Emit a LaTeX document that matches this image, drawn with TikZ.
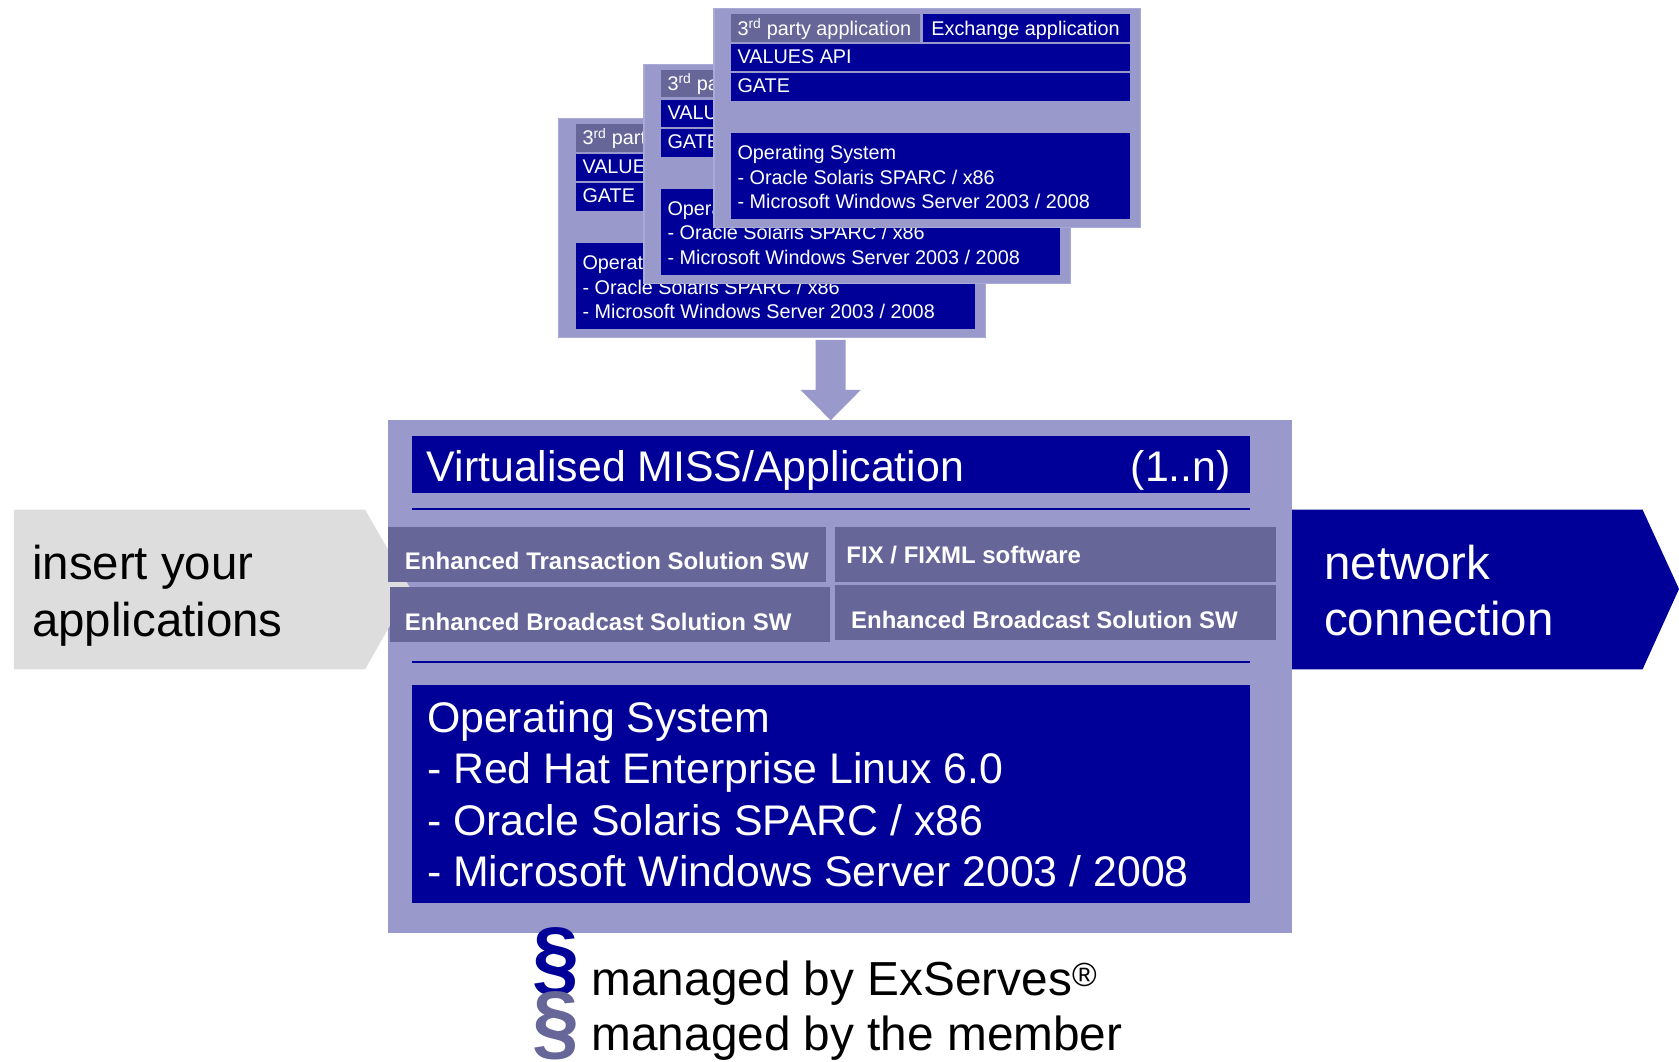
\documentclass[tikz,border=0pt]{standalone}
\usepackage{fontspec}
\setmainfont{Liberation Sans}
\definecolor{navy}{RGB}{0,0,153}
\definecolor{lilac}{RGB}{153,153,204}
\definecolor{slate}{RGB}{102,102,153}
\definecolor{lightgray}{RGB}{221,221,221}
\definecolor{cardedge}{RGB}{170,170,215}
\tikzset{
  blk/.style={inner sep=0pt, outer sep=0pt, anchor=north west},
  navybox/.style={blk, fill=navy},
  slatebox/.style={blk, fill=slate},
  cardbox/.style={blk, fill=lilac, draw=cardedge, line width=1pt},
  paneltxt/.style={inner sep=0pt, outer sep=0pt, text=white},
  cardtxt/.style={paneltxt, font=\fontsize{18.5}{20}\selectfont, anchor=base west},
  bigtxt/.style={paneltxt, font=\fontsize{40}{44}\selectfont, anchor=base west},
  rowtxt/.style={paneltxt, font=\fontsize{22.4}{24}\selectfont\bfseries, anchor=base west},
  sidetxt/.style={inner sep=0pt, outer sep=0pt, font=\fontsize{44.3}{48}\selectfont, anchor=base west},
  legtxt/.style={inner sep=0pt, outer sep=0pt, font=\fontsize{44.6}{48}\selectfont, anchor=base west, text=black},
  sect/.style={inner sep=0pt, outer sep=0pt, font=\fontsize{79}{80}\selectfont\bfseries, anchor=base west},
  sep/.style={draw=navy, line width=2pt},
}
\newcommand{\stackcard}[3]{%
  \begin{scope}[shift={(#2,#3)}]
    \node[cardbox, minimum width=398pt, minimum height=205pt] (#1) at (0,0) {};
    \node[slatebox, minimum width=176.7pt, minimum height=25.8pt] (#1-tab) at (16,5.3) {};
    \node[navybox, minimum width=192.9pt, minimum height=25.8pt] (#1-exch) at (195.6,5.3) {};
    \node[navybox, minimum width=372.5pt, minimum height=25.2pt] (#1-api) at (16,33.3) {};
    \node[navybox, minimum width=372.5pt, minimum height=25.8pt] (#1-gate) at (16,60.7) {};
    \node[navybox, minimum width=372.5pt, minimum height=80pt] (#1-os) at (16,116.7) {};
    \node[cardtxt] (#1-tabt) at (22,24.9) {3\textsuperscript{rd} party application};
    \node[cardtxt] (#1-exct) at (203,24.9) {Exchange application};
    \node[cardtxt] (#1-apit) at (22,51.4) {VALUES API};
    \node[cardtxt] (#1-gatet) at (22,78.8) {GATE};
    \node[cardtxt] (#1-os1) at (22,141) {Operating System};
    \node[cardtxt] (#1-os2) at (22,164.3) {- Oracle Solaris SPARC / x86};
    \node[cardtxt] (#1-os3) at (22,186.8) {- Microsoft Windows Server 2003 / 2008};
  \end{scope}}
\begin{document}
\begin{tikzpicture}[x=1pt,y=-1pt]
\useasboundingbox[fill=white] (0,0) rectangle (1568,991);

% stacked cards
\stackcard{cardA}{522}{110.5}
\stackcard{cardB}{601.4}{59.8}
\stackcard{cardC}{666.8}{7.8}

% down arrow
\fill[lilac] (761.7,317.5) -- (789.8,317.5) -- (789.8,364.2) -- (803.8,364.2)
  -- (775.8,392.5) -- (747.7,364.2) -- (761.7,364.2) -- cycle;

% main panel
\node[blk, fill=lilac, minimum width=844pt, minimum height=479pt] (panel) at (362.7,392.3) {};

% left arrow
\fill[lightgray] (13,476) -- (341,476) -- (383.5,550) -- (341,625) -- (13,625) -- cycle;
\node[sidetxt, text=black] (ins1) at (30,541) {insert your};
\node[sidetxt, text=black] (ins2) at (30,594.6) {applications};

% right arrow
\fill[navy] (1206.6,476) -- (1534,476) -- (1568,550) -- (1534,625) -- (1206.6,625) -- cycle;
\node[sidetxt, text=white] (net1) at (1236.7,541) {network};
\node[sidetxt, text=white] (net2) at (1236.7,593.6) {connection};

% title bar
\node[navybox, minimum width=782.4pt, minimum height=52.9pt] (title) at (385,407.2) {};
\node[bigtxt] (titlet) at (398.5,449.2) {Virtualised MISS/Application};
\node[bigtxt, anchor=base east] (titlen) at (1149.4,449.2) {(1..n)};

% separators
\coordinate (s1a) at (385,475.7);
\coordinate (s1b) at (1167.4,475.7);
\coordinate (s2a) at (385,618);
\coordinate (s2b) at (1167.4,618);
\draw[sep] (s1a) -- (s1b);
\draw[sep] (s2a) -- (s2b);

% software rows
\node[slatebox, minimum width=408.7pt, minimum height=51.4pt] (ets) at (362.7,491.8) {};
\node[slatebox, minimum width=411.7pt, minimum height=51.4pt] (fix) at (779.8,491.8) {};
\node[slatebox, minimum width=410.9pt, minimum height=51.3pt] (ebs1) at (364.2,548.5) {};
\node[slatebox, minimum width=411.7pt, minimum height=51.4pt] (ebs2) at (779.8,546.3) {};
\node[rowtxt] (etst) at (378.2,531.7) {Enhanced Transaction Solution SW};
\node[rowtxt] (fixt) at (790.5,526.5) {FIX / FIXML software};
\node[rowtxt] (ebs1t) at (378.2,589) {Enhanced Broadcast Solution SW};
\node[rowtxt] (ebs2t) at (794.9,586.8) {Enhanced Broadcast Solution SW};

% operating system box
\node[navybox, minimum width=782.4pt, minimum height=203.3pt] (os) at (385,639.7) {};
\node[bigtxt] (os1) at (398.8,684) {Operating System};
\node[bigtxt] (os2) at (398.8,731.6) {- Red Hat Enterprise Linux 6.0};
\node[bigtxt] (os3) at (398.8,779.8) {- Oracle Solaris SPARC / x86};
\node[bigtxt] (os4) at (398.8,828) {- Microsoft Windows Server 2003 / 2008};

% legend
\node[sect, text=navy] (sec1) at (497,921) {\S};
\node[sect, text=slate] (sec2) at (497,981.5) {\S};
\node[legtxt] (leg1) at (552.5,930) {managed by ExServes\textsuperscript{\textregistered}};
\node[legtxt] (leg2) at (552.5,981) {managed by the member};
\end{tikzpicture}
\end{document}
